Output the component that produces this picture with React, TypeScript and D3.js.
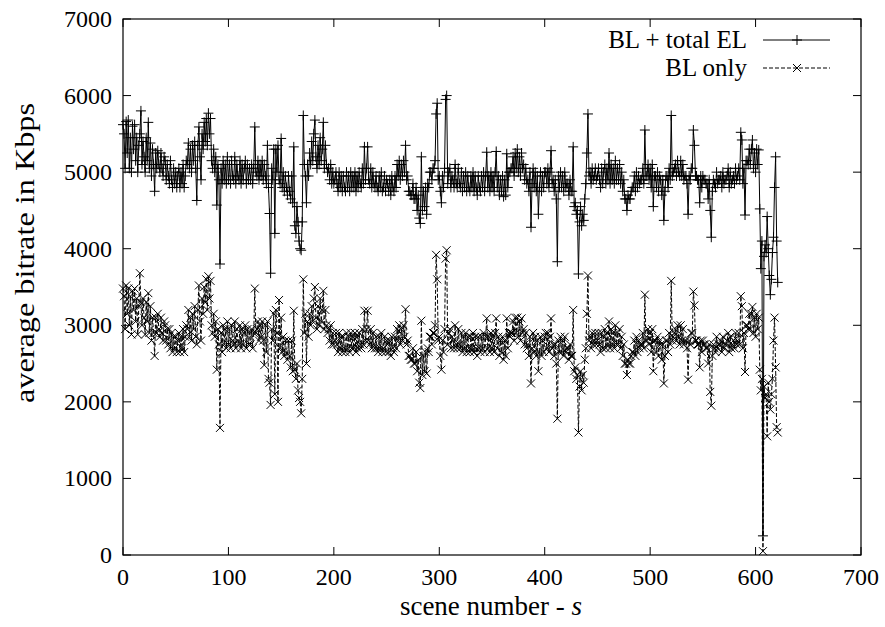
import React from "react";
import * as d3 from "d3";

// BL + total EL (Kbps), one value per scene, scene 0..621
const blTotalEL: number[] = [
  5620, 5500, 5050, 5660, 5250, 5680, 5050, 5450, 5000, 5600,
  5300, 5620, 5150, 5450, 5000, 5350, 5500, 5800, 5100, 5400,
  5200, 5000, 5450, 5150, 5650, 5050, 5380, 4950, 5300, 5100,
  4750, 5250, 5050, 5280, 5100, 5000, 5250, 5050, 4950, 5200,
  5150, 4900, 5100, 4950, 4850, 5150, 4900, 4800, 5050, 4850,
  5000, 4800, 4950, 5050, 4800, 5000, 4850, 5100, 4800, 4950,
  5150, 5100, 5380, 5050, 5300, 5000, 5350, 5150, 5400, 5050,
  4630, 5350, 5590, 5200, 4900, 5500, 5300, 5650, 5400, 5700,
  5350, 5770, 5500, 5700, 5150, 5050, 5300, 5000, 5200, 4570,
  5100, 4900, 3800, 5050, 4850, 5150, 4900, 5100, 4850, 5200,
  4900, 5100, 4850, 5150, 4950, 4900, 5200, 4850, 5100, 4950,
  4900, 5150, 4850, 5100, 4900, 5050, 5150, 4850, 5100, 4900,
  5050, 4900, 5100, 4850, 5050, 5590, 5000, 4950, 5150, 4900,
  5100, 4950, 5150, 4900, 5100, 4950, 4850, 5350, 4800, 4460,
  3680, 5050, 4900, 5300, 4200, 5300, 5000, 5350, 4900, 4850,
  5440, 4800, 5000, 4750, 4950, 4800, 4700, 4950, 4750, 4650,
  4950, 4600, 5330, 4300, 4200, 4550, 4350, 4100, 4000, 3980,
  4350, 5740, 5100, 4950, 4600, 5100, 4950, 5250, 5100, 5400,
  5150, 5500, 5680, 5200, 5050, 5350, 5100, 5450, 5150, 5300,
  5650, 5050, 5350, 5100, 5000, 5050, 4900, 5100, 4850, 5000,
  4850, 4900, 5000, 4850, 4750, 5000, 4800, 4950, 4750, 4950,
  4800, 4750, 5000, 4800, 4950, 4750, 5000, 4800, 4950, 4800,
  5000, 4750, 4950, 4800, 5000, 4850, 4800, 5050, 4850, 5330,
  4900, 5050, 5330, 4900, 4850, 5050, 4800, 5000, 4850, 4800,
  4950, 4800, 4750, 4950, 4800, 5000, 4750, 4800, 4950, 4750,
  4900, 4850, 4750, 4900, 4700, 4950, 4800, 4750, 4950, 4800,
  5100, 4950, 5150, 4900, 5100, 4950, 5150, 5000, 5350, 4900,
  4950, 4750, 4750, 4700, 4700, 4850, 4650, 4650, 4800, 4500,
  4700, 4400, 4330, 5200, 4500, 4750, 4550, 4800, 4450, 4850,
  4800, 5000, 5000, 4900, 5050, 5050, 5150, 5760, 5900, 4900,
  4950, 4750, 4600, 4950, 4800, 5050, 5950, 6000, 4850, 5000,
  5050, 4800, 4950, 4900, 4800, 5100, 4850, 4800, 5050, 4850,
  4800, 5000, 4750, 4950, 4800, 5000, 4750, 4950, 4800, 4750,
  4950, 4800, 5000, 4750, 4950, 4800, 4700, 4950, 4800, 4750,
  4950, 4800, 5000, 4750, 4950, 5260, 4800, 4950, 4750, 5000,
  4800, 4950, 4750, 5000, 5270, 4800, 4950, 4700, 4900, 4750,
  4950, 4680, 4900, 4700, 5240, 4800, 5000, 5000, 5050, 5050,
  5200, 4950, 5250, 5050, 5300, 5000, 5200, 4950, 5250, 5050,
  5100, 4900, 5050, 4850, 4900, 4750, 5000, 4280, 4850, 5050,
  4800, 5000, 4750, 4950, 4450, 4800, 5000, 4750, 4950, 4800,
  5000, 5000, 4850, 5050, 4800, 5000, 5280, 4850, 4900, 4750,
  4900, 4650, 3830, 4950, 4800, 5000, 4800, 4950, 4750, 5000,
  4800, 4850, 4850, 4700, 4900, 4750, 4750, 5330, 4550, 4600,
  4450, 4500, 3670, 4350, 4550, 4300, 4450, 4370, 4650, 4850,
  5250, 5760, 4950, 5000, 4850, 5050, 4900, 4950, 5050, 4900,
  4950, 5050, 4900, 4800, 5050, 4850, 5000, 5100, 4850, 5050,
  4900, 5250, 4850, 5100, 4900, 5050, 4850, 5150, 4900, 5050,
  4900, 5100, 4850, 5000, 4750, 4900, 4650, 4650, 4500, 4700,
  4650, 4650, 4750, 4800, 4800, 4950, 4750, 5000, 4800, 4950,
  4850, 4900, 4900, 5050, 4850, 5550, 4950, 4950, 5100, 4900,
  5050, 4800, 5100, 4550, 4950, 4950, 4800, 5000, 4750, 4950,
  4900, 4700, 4900, 4370, 4750, 4950, 4950, 4800, 5050, 4900,
  5740, 4950, 5000, 5050, 5100, 4950, 5150, 5000, 4950, 5150,
  4950, 5100, 4900, 4950, 4950, 4850, 4450, 4950, 4900, 5050,
  5050, 5550, 5350, 4950, 4950, 4900, 4900, 4600, 4950, 4800,
  4950, 4900, 4900, 4850, 4850, 4650, 4900, 4500, 4150, 4750,
  4900, 4850, 4800, 5000, 4850, 4900, 4900, 4950, 4800, 5000,
  4850, 4900, 4900, 4950, 5050, 4800, 5000, 4850, 4900, 4950,
  4850, 5050, 4900, 4950, 5050, 4900, 5520, 5420, 4850, 5050,
  4440, 5150, 5150, 5100, 5300, 5100, 5300, 5420, 5050, 5250,
  5000, 5300, 5100, 5290, 4520, 3740, 4100, 250, 3900, 4050,
  3950, 4420, 4000, 3650, 3400, 3600, 3950, 4150, 4800, 5200,
  4100, 3560,
];

// BL only (Kbps), one value per scene, scene 0..621
const blOnly: number[] = [
  3480, 3380, 2950, 3520, 3150, 3480, 3000, 3380, 2880, 3450,
  3200, 3480, 3050, 3350, 2880, 3250, 3680, 3300, 3000, 3350,
  3100, 2880, 3300, 3050, 3420, 2900, 3250, 2800, 3100, 2900,
  2600, 3100, 2900, 3150, 2950, 2850, 3100, 2900, 2800, 3050,
  3000, 2800, 2950, 2750, 2950, 2700, 2900, 2650, 2850, 2700,
  2850, 2650, 2800, 2900, 2650, 2850, 2700, 2950, 2650, 2850,
  3000, 2950, 3200, 2850, 3100, 2800, 3150, 2950, 3250, 2850,
  2750, 3200, 3520, 3050, 2800, 3350, 3150, 3500, 3300, 3600,
  3200, 3640, 3350, 3580, 3000, 2900, 3150, 2850, 3050, 2420,
  2950, 2750, 1660, 2900, 2650, 3000, 2750, 2950, 2700, 3050,
  2750, 2950, 2700, 3000, 2800, 2750, 3050, 2700, 2950, 2800,
  2750, 3000, 2700, 2950, 2750, 2900, 3000, 2700, 2950, 2750,
  2900, 2750, 2950, 2700, 2900, 3480, 2900, 2950, 3050, 2800,
  3000, 2850, 3050, 2800, 2480, 3000, 2650, 3050, 2300, 2250,
  1960, 2950, 2800, 3150, 2100, 3200, 2900, 2000, 3330, 2700,
  3100, 2650, 2850, 2600, 2800, 2650, 2550, 2800, 2600, 2450,
  2800, 2400, 3190, 2420, 2300, 2500, 2150, 2050, 2000, 1850,
  2300, 3600, 2900, 3150, 2500, 3050, 2850, 3150, 3000, 3250,
  3050, 3350, 3500, 3100, 2950, 3250, 3000, 3350, 3050, 3200,
  3450, 2950, 3200, 3000, 2900, 2950, 2800, 3000, 2750, 2900,
  2750, 2800, 2900, 2750, 2650, 2900, 2700, 2850, 2650, 2850,
  2700, 2650, 2900, 2700, 2850, 2650, 2900, 2700, 2850, 2700,
  2900, 2650, 2850, 2700, 2900, 2750, 2700, 2950, 2750, 3190,
  2800, 2950, 3190, 2800, 2750, 2950, 2700, 2900, 2750, 2700,
  2850, 2700, 2650, 2850, 2700, 2900, 2650, 2700, 2850, 2650,
  2800, 2750, 2650, 2800, 2600, 2850, 2700, 2650, 2850, 2700,
  2950, 2800, 3000, 2750, 2950, 2800, 3000, 2850, 3210, 2750,
  2800, 2600, 2600, 2550, 2550, 2700, 2500, 2500, 2650, 2400,
  2550, 2250, 2180, 3060, 2350, 2600, 2400, 2650, 2370, 2700,
  2650, 2850, 2850, 2750, 2900, 2900, 3000, 3920, 3600, 2800,
  2850, 2600, 2420, 2800, 2650, 2950, 3870, 3980, 2750, 2900,
  2950, 2700, 2850, 2800, 2700, 3000, 2750, 2700, 2950, 2750,
  2700, 2900, 2650, 2850, 2700, 2900, 2650, 2850, 2700, 2650,
  2850, 2700, 2900, 2650, 2850, 2700, 2600, 2850, 2700, 2650,
  2850, 2700, 2900, 2650, 2850, 3090, 2700, 2850, 2650, 2900,
  2700, 2850, 2650, 2900, 3090, 2700, 2850, 2600, 2800, 2650,
  2850, 2550, 2800, 2600, 3090, 2700, 2900, 2850, 2900, 2900,
  3050, 2800, 3100, 2900, 3100, 2850, 3050, 2800, 3090, 2900,
  2950, 2750, 2900, 2700, 2750, 2600, 2850, 2240, 2700, 2900,
  2650, 2850, 2600, 2800, 2400, 2650, 2850, 2600, 2800, 2650,
  2850, 2900, 2700, 2900, 2650, 2850, 3090, 2700, 2750, 2600,
  2750, 2500, 1780, 2800, 2650, 2850, 2650, 2800, 2600, 2850,
  2650, 2700, 2700, 2550, 2750, 2600, 2600, 3200, 2400, 2450,
  2300, 2350, 1600, 2200, 2400, 2150, 2350, 2250, 2550, 2700,
  3150, 3650, 2800, 2850, 2700, 2900, 2750, 2800, 2900, 2750,
  2800, 2900, 2750, 2650, 2900, 2700, 2850, 2950, 2700, 2900,
  2750, 3050, 2700, 2950, 2750, 2900, 2700, 3000, 2750, 2900,
  2750, 2950, 2700, 2850, 2600, 2750, 2500, 2500, 2350, 2550,
  2500, 2500, 2600, 2650, 2650, 2800, 2600, 2850, 2650, 2800,
  2700, 2750, 2750, 2900, 2700, 3400, 2800, 2800, 2950, 2750,
  2900, 2650, 2950, 2400, 2800, 2800, 2650, 2850, 2600, 2800,
  2750, 2550, 2750, 2240, 2600, 2800, 2800, 2650, 2900, 2750,
  3580, 2800, 2850, 2900, 2950, 2800, 3000, 2850, 2750, 3000,
  2800, 2950, 2750, 2800, 2800, 2700, 2290, 2800, 2750, 2900,
  2900, 3440, 3260, 2800, 2800, 2750, 2750, 2450, 2800, 2650,
  2800, 2750, 2750, 2700, 2700, 2500, 2750, 2130, 1950, 2600,
  2750, 2700, 2650, 2850, 2700, 2750, 2750, 2800, 2650, 2850,
  2700, 2750, 2750, 2800, 2900, 2650, 2850, 2700, 2750, 2800,
  2700, 2900, 2750, 2800, 2900, 2750, 3380, 3250, 2700, 2900,
  2390, 3000, 3000, 2950, 3150, 2950, 3150, 3240, 2900, 3100,
  2850, 3150, 2950, 3100, 2420, 2150, 2300, 50, 2200, 2050,
  2100, 1550, 2250, 2000, 1900, 2100, 2300, 2800, 3100, 2450,
  1670, 1600,
];

const xTicks: number[] = [0, 100, 200, 300, 400, 500, 600, 700];
const yTicks: number[] = [0, 1000, 2000, 3000, 4000, 5000, 6000, 7000];
const seriesLabels: string[] = ["BL + total EL", "BL only"];
const yAxisLabel = "average bitrate in Kbps";
const xAxisLabelMain = "scene number - ";
const xAxisLabelVar = "s";

const W = 885;
const H = 627;
const L = 123;
const R = 861;
const T = 19;
const B = 555;
const FONT = "'Liberation Serif', 'Times New Roman', serif";

export default function App() {
  const x = d3.scaleLinear().domain([0, 700]).range([L, R]);
  const y = d3.scaleLinear().domain([0, 7000]).range([B, T]);

  const line = d3
    .line<number>()
    .x((_, i) => x(i))
    .y((d) => y(d));

  const plusPath = (px: number, py: number, r = 5) =>
    `M${px - r},${py}H${px + r}M${px},${py - r}V${py + r}`;
  const crossPath = (px: number, py: number, r = 4) =>
    `M${px - r},${py - r}L${px + r},${py + r}M${px - r},${py + r}L${px + r},${py - r}`;

  const plusMarks = blTotalEL.map((v, i) => plusPath(x(i), y(v))).join("");
  const crossMarks = blOnly.map((v, i) => crossPath(x(i), y(v))).join("");

  const tickLen = 8;

  return (
    <svg
      width={W}
      height={H}
      style={{ position: "absolute", left: 0, top: 0, background: "#fff" }}
      fontFamily={FONT}
    >
      <rect x={0} y={0} width={W} height={H} fill="#fff" />

      {/* series 1: BL + total EL */}
      <path d={line(blTotalEL) || ""} fill="none" stroke="#000" strokeWidth={1} />
      <path d={plusMarks} fill="none" stroke="#000" strokeWidth={1} />

      {/* series 2: BL only */}
      <path
        d={line(blOnly) || ""}
        fill="none"
        stroke="#000"
        strokeWidth={1}
        strokeDasharray="4,2"
      />
      <path d={crossMarks} fill="none" stroke="#000" strokeWidth={1} />

      {/* frame */}
      <rect x={L} y={T} width={R - L} height={B - T} fill="none" stroke="#000" strokeWidth={1.2} />

      {/* x ticks */}
      {xTicks.map((t) => (
        <g key={"xt" + t}>
          <line x1={x(t)} x2={x(t)} y1={B} y2={B - tickLen} stroke="#000" />
          <line x1={x(t)} x2={x(t)} y1={T} y2={T + tickLen} stroke="#000" />
          <text x={x(t)} y={585} textAnchor="middle" fontSize={24} fill="#000">
            {t}
          </text>
        </g>
      ))}

      {/* y ticks */}
      {yTicks.map((t) => (
        <g key={"yt" + t}>
          <line x1={L} x2={L + tickLen} y1={y(t)} y2={y(t)} stroke="#000" />
          <line x1={R} x2={R - tickLen} y1={y(t)} y2={y(t)} stroke="#000" />
          <text x={112} y={y(t) + 8} textAnchor="end" fontSize={24} fill="#000">
            {t}
          </text>
        </g>
      ))}

      {/* axis labels */}
      <text
        transform={`translate(34, 253) rotate(-90)`}
        textAnchor="middle"
        fontSize={28}
        fill="#000"
        textLength={300}
        lengthAdjust="spacingAndGlyphs"
      >
        {yAxisLabel}
      </text>
      <text x={491} y={615} textAnchor="middle" fontSize={27} fill="#000">
        {xAxisLabelMain}
        <tspan fontStyle="italic">{xAxisLabelVar}</tspan>
      </text>

      {/* legend */}
      <text x={747} y={48} textAnchor="end" fontSize={25} fill="#000">
        {seriesLabels[0]}
      </text>
      <line x1={763} x2={830} y1={40} y2={40} stroke="#000" />
      <path d={plusPath(797, 40)} stroke="#000" fill="none" />

      <text x={747} y={76} textAnchor="end" fontSize={25} fill="#000">
        {seriesLabels[1]}
      </text>
      <line x1={763} x2={830} y1={68} y2={68} stroke="#000" strokeDasharray="4,2" />
      <path d={crossPath(797, 68)} stroke="#000" fill="none" />
    </svg>
  );
}
